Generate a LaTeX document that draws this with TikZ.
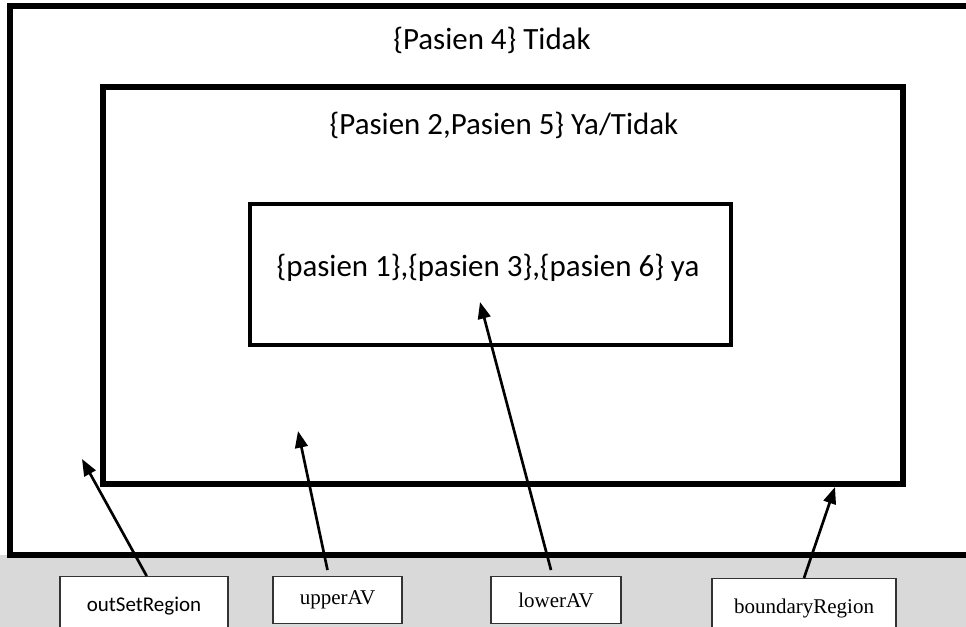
\documentclass[tikz,border=0pt]{standalone}
\usepackage{fontspec}
\setmainfont{Liberation Serif}
\newfontfamily\calibri{Carlito}
\usepackage{tikz}
\usetikzlibrary{
  calc,
  positioning,
  arrows.meta
}
\definecolor{pagegray}{HTML}{D9D9D9}

\begin{document}
\begin{tikzpicture}[x=0.75pt,y=-0.75pt,>={Triangle[length=12.5pt,width=9.5pt]}]
  \tikzset{
    region/.style={draw=black, fill=white, line join=miter},
    settext/.style={font=\calibri\fontsize{23.2}{28}\selectfont, inner sep=0pt},
    labelbox/.style={draw=black!80, fill=white, line width=0.8pt,
      anchor=north, inner sep=0pt, minimum height=35.25pt},
    pointer/.style={->, line width=2pt}
  }

  \useasboundingbox (0,0) rectangle (966,627);
  \clip (0,0) rectangle (966,627);
  \fill[white] (0,0) rectangle (966,627);
  \fill[pagegray] (0,555) rectangle (966,627);

  % nested regions
  \draw[region, line width=4.5pt] (10,6) rectangle (990,555);
  \draw[region, line width=4.2pt] (103,87) rectangle (903,484);
  \draw[region, line width=3.4pt] (250,204) rectangle (731,345);

  \node[settext] (outTxt) at (492,40) {\{Pasien 4\} Tidak};
  \node[settext] (upTxt) at (504,125) {\{Pasien 2,Pasien 5\} Ya/Tidak};
  \node[settext] (lowTxt) at (488,268) {\{pasien 1\},\{pasien 3\},\{pasien 6\} ya};

  % labels underneath
  \node[labelbox, minimum width=126pt, minimum height=45pt,
    font=\calibri\fontsize{15.75}{18}\selectfont] (outset) at (144,576) {outSetRegion};
  \node[labelbox, minimum width=96.75pt, font=\fontsize{15.75}{18}\selectfont]
    (upper) at (337.5,576) {upperAV};
  \node[labelbox, minimum width=97.5pt, font=\fontsize{15.75}{18}\selectfont]
    (lower) at (556,576) {lowerAV};
  \node[labelbox, minimum width=138pt, minimum height=45pt,
    font=\fontsize{15.75}{18}\selectfont] (boundary) at (804,578) {boundaryRegion};

  \coordinate (outTip) at (82,459);
  \coordinate (upTip) at (298,431);
  \coordinate (lowTip) at (480,302);
  \coordinate (bndTip) at (835,487);

  \draw[pointer] ([xshift=2pt]outset.north) -- (outTip);
  \draw[pointer] ([xshift=-7.5pt,yshift=4.5pt]upper.north) -- (upTip);
  \draw[pointer] ([xshift=-3.75pt,yshift=4.5pt]lower.north) -- (lowTip);
  \draw[pointer] (boundary.north) -- (bndTip);

\end{tikzpicture}
\end{document}
